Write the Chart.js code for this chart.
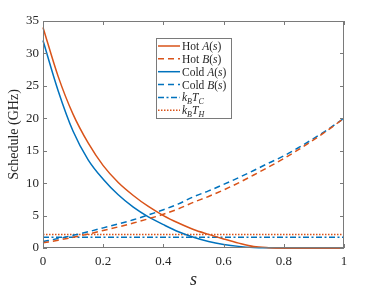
<!DOCTYPE html>
<html>
<head>
<meta charset="utf-8">
<script src="https://cdn.jsdelivr.net/npm/chart.js@4.4.1/dist/chart.umd.min.js"></script>
<style>
html, body { margin: 0; padding: 0; background: #fff; }
</style>
</head>
<body>
<canvas id="Schedule" width="374" height="291"></canvas>
<script>
// annealing schedule values
var sVals = [0, 0.05, 0.1, 0.15, 0.2, 0.25, 0.3, 0.35, 0.4, 0.45, 0.5, 0.55, 0.6, 0.65, 0.7, 0.75, 0.8, 0.85, 0.9, 0.95, 1];
var hotA  = [34, 26.5, 20.6, 16.2, 12.7, 10.1, 8.1, 6.4, 5.0, 3.85, 2.85, 2.1, 1.4, 0.75, 0.22, 0.05, 0, 0, 0, 0, 0];
var hotB  = [0.8, 1.2, 1.65, 2.15, 2.7, 3.25, 3.85, 4.5, 5.2, 6.05, 7.05, 7.95, 8.95, 10.05, 11.25, 12.5, 13.8, 15.2, 16.7, 18.3, 20.0];
var coldA = [32, 24.3, 18.0, 13.6, 10.6, 8.2, 6.3, 4.8, 3.6, 2.5, 1.65, 1.0, 0.55, 0.25, 0.08, 0.02, 0, 0, 0, 0, 0];
var coldB = [1.0, 1.45, 1.95, 2.5, 3.1, 3.7, 4.35, 5.1, 5.9, 6.8, 7.9, 8.8, 9.8, 10.85, 11.95, 13.1, 14.2, 15.5, 16.9, 18.4, 20.0];
var kbTc = 1.67;
var kbTh = 2.08;
var xTicks = [0, 0.2, 0.4, 0.6, 0.8, 1];
var yTicks = [0, 5, 10, 15, 20, 25, 30, 35];

var orange = '#D95319';
var blue = '#0072BD';
var axisGray = '#7a7a7a';
var textColor = '#262626';
var serif = "'Liberation Serif', 'Times New Roman', serif";

function pts(ys) {
    return sVals.map(function (s, i) { return { x: s, y: ys[i] }; });
}
function flat(v) {
    return [{ x: 0, y: v }, { x: 1, y: v }];
}

// legend entries: each label is a list of [text, italic, subscript]
var legendItems = [
    { color: orange, dash: [], label: [['Hot ', 0, 0], ['A', 1, 0], ['(', 0, 0], ['s', 1, 0], [')', 0, 0]] },
    { color: orange, dash: [6, 4], label: [['Hot ', 0, 0], ['B', 1, 0], ['(', 0, 0], ['s', 1, 0], [')', 0, 0]] },
    { color: blue, dash: [], label: [['Cold ', 0, 0], ['A', 1, 0], ['(', 0, 0], ['s', 1, 0], [')', 0, 0]] },
    { color: blue, dash: [6, 4], label: [['Cold ', 0, 0], ['B', 1, 0], ['(', 0, 0], ['s', 1, 0], [')', 0, 0]] },
    { color: blue, dash: [6, 2.5, 2, 2.5], label: [['k', 1, 0], ['B', 1, 1], ['T', 1, 0], ['C', 1, 1]] },
    { color: orange, dash: [1.5, 1.5], label: [['k', 1, 0], ['B', 1, 1], ['T', 1, 0], ['H', 1, 1]] }
];

var framePlugin = {
    id: 'frame',
    afterDraw: function (chart) {
        var ctx = chart.ctx;
        var a = chart.chartArea;
        var xs = chart.scales.x, ys = chart.scales.y;
        ctx.save();
        ctx.strokeStyle = axisGray;
        ctx.lineWidth = 1;
        ctx.setLineDash([]);
        ctx.strokeRect(Math.round(a.left) + 0.5, Math.round(a.top) + 0.5,
            Math.round(a.right - a.left) - 1, Math.round(a.bottom - a.top) - 1);
        ctx.beginPath();
        xTicks.forEach(function (v) {
            var px = Math.round(xs.getPixelForValue(v)) + 0.5;
            ctx.moveTo(px, a.bottom); ctx.lineTo(px, a.bottom - 4);
            ctx.moveTo(px, a.top); ctx.lineTo(px, a.top + 4);
        });
        yTicks.forEach(function (v) {
            var py = Math.round(ys.getPixelForValue(v)) + 0.5;
            ctx.moveTo(a.left, py); ctx.lineTo(a.left + 4, py);
            ctx.moveTo(a.right, py); ctx.lineTo(a.right - 4, py);
        });
        ctx.stroke();

        // legend box
        var bx = 156.5, by = 38.5, bw = 75, bh = 80;
        ctx.fillStyle = '#fff';
        ctx.fillRect(bx, by, bw, bh);
        ctx.strokeRect(bx, by, bw, bh);
        legendItems.forEach(function (item, i) {
            var y = 46 + i * 12.85;
            ctx.strokeStyle = item.color;
            ctx.lineWidth = 1.5;
            ctx.setLineDash(item.dash);
            ctx.beginPath();
            ctx.moveTo(158, y); ctx.lineTo(180, y);
            ctx.stroke();
            ctx.setLineDash([]);
            var x = 182;
            ctx.fillStyle = textColor;
            ctx.textBaseline = 'alphabetic';
            item.label.forEach(function (seg) {
                var size = seg[2] ? 8 : 11.5;
                ctx.font = (seg[1] ? 'italic ' : '') + size + 'px ' + serif;
                ctx.fillText(seg[0], x, y + 4 + (seg[2] ? 2.5 : 0));
                x += ctx.measureText(seg[0]).width;
            });
        });
        ctx.restore();
    }
};

var lineStyle = function (label, data, color, dash) {
    return {
        label: label,
        data: data,
        borderColor: color,
        backgroundColor: color,
        borderWidth: 1.5,
        borderDash: dash,
        pointRadius: 0,
        fill: false,
        cubicInterpolationMode: 'monotone',
        clip: 3
    };
};

var ctx1 = document.getElementById('Schedule').getContext('2d');
var ScheduleChart = new Chart(ctx1, {
    type: 'line',
    data: {
        datasets: [
            lineStyle('Hot A(s)', pts(hotA), orange, []),
            lineStyle('Hot B(s)', pts(hotB), orange, [6, 4]),
            lineStyle('Cold A(s)', pts(coldA), blue, []),
            lineStyle('Cold B(s)', pts(coldB), blue, [6, 4]),
            lineStyle('kBTC', flat(kbTc), blue, [6, 2.5, 2, 2.5]),
            lineStyle('kBTH', flat(kbTh), orange, [1.5, 1.5])
        ]
    },
    options: {
        responsive: false,
        animation: false,
        layout: { padding: { top: 21, right: 30, left: 0, bottom: 0 } },
        plugins: {
            legend: { display: false },
            tooltip: { enabled: false }
        },
        scales: {
            x: {
                type: 'linear',
                min: 0,
                max: 1,
                grid: { display: false, drawTicks: false },
                border: { display: false },
                afterBuildTicks: function (scale) {
                    scale.ticks = xTicks.map(function (v) { return { value: v }; });
                },
                afterFit: function (scale) { scale.height = 43; },
                ticks: {
                    color: textColor,
                    padding: 6,
                    maxRotation: 0,
                    font: { family: serif, size: 13 },
                    callback: function (v) { return String(v); }
                },
                title: {
                    display: true,
                    text: 's',
                    color: textColor,
                    padding: { top: 0, bottom: 0 },
                    font: { family: serif, size: 18, style: 'italic' }
                }
            },
            y: {
                min: 0,
                max: 35,
                grid: { display: false, drawTicks: false },
                border: { display: false },
                afterBuildTicks: function (scale) {
                    scale.ticks = yTicks.map(function (v) { return { value: v }; });
                },
                afterFit: function (scale) { scale.width = 43; },
                ticks: {
                    color: textColor,
                    padding: 4,
                    font: { family: serif, size: 13 },
                    callback: function (v) { return String(v); }
                },
                title: {
                    display: true,
                    text: 'Schedule (GHz)',
                    color: textColor,
                    padding: { top: 6, bottom: 0 },
                    font: { family: serif, size: 14 }
                }
            }
        }
    },
    plugins: [framePlugin]
});
</script>
</body>
</html>
